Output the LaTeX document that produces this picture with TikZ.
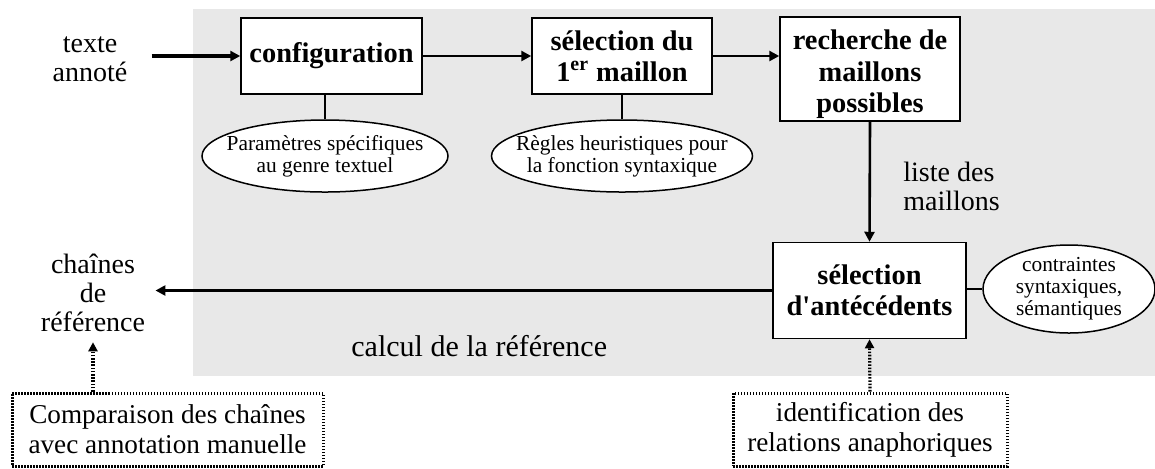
\documentclass[tikz,border=0pt]{standalone}
\usepackage{fontspec}
\setmainfont{Liberation Serif}[Ligatures=TeXOff]
\usetikzlibrary{arrows.meta,shapes.geometric}
\definecolor{bggray}{HTML}{E8E8E8}
\tikzset{
  procbox/.style={draw=black, line width=0.75pt, fill=white, align=center, inner sep=0pt,
    font=\fontsize{14.2}{15.5}\selectfont\bfseries},
  annot/.style={ellipse, draw=black, line width=0.75pt, fill=white, inner sep=0pt},
  annottext/.style={align=center, inner sep=0pt, font=\fontsize{10.7}{11}\selectfont},
  lbl/.style={align=center, inner sep=0pt, font=\fontsize{14}{14.5}\selectfont},
  dotbox/.style={draw=black, line width=1.5pt, dash pattern=on 0.75pt off 0.75pt, align=center,
    inner sep=0pt, font=\fontsize{13.6}{15}\selectfont},
  arr/.style={line width=1.3pt, -{Triangle[length=5pt,width=5pt]}},
  thickarr/.style={line width=2pt, -{Triangle[length=5pt,width=5pt]}},
  dotarr/.style={line width=1.6pt, dash pattern=on 0.8pt off 0.8pt, -{Triangle[length=4.5pt,width=4.5pt]}},
  stem/.style={line width=0.75pt}
}
\begin{document}
\begin{tikzpicture}[x=0.5pt,y=-0.5pt]
\useasboundingbox (0,0) rectangle (1155,468);
\fill[bggray] (193,9) rectangle (1155,376);

% process boxes
\node[procbox, minimum width=90.5pt, minimum height=38pt] (b1) at (331.5,56) {configuration};
\node[procbox, minimum width=90pt, minimum height=38pt] (b2) at (622,56) {sélection du\\1\textsuperscript{er} maillon};
\node[procbox, minimum width=90pt, minimum height=52pt] (b3) at (870,69) {\rule{0pt}{15pt}recherche de\\[0.5pt]maillons\\possibles};
\node[procbox, minimum width=96.5pt, minimum height=48pt] (b4) at (869.5,290.5) {sélection\\d'antécédents};

% ellipses
\node[annot, minimum width=123pt, minimum height=36pt] (e1) at (325,156) {};
\node[annottext] (e1t) at (e1.center) {Paramètres spécifiques\\au genre textuel};
\node[annot, minimum width=130.5pt, minimum height=36pt] (e2) at (622,156) {};
\node[annottext] (e2t) at (e2.center) {Règles heuristiques pour\\la fonction syntaxique};
\node[annot, minimum width=86pt, minimum height=44pt] (e3) at (1069,289) {};
\node[annottext] (e3t) at (e3.center) {contraintes\\syntaxiques,\\sémantiques};

% labels
\node[lbl, inner xsep=12pt] (ta) at (90,59) {texte\\annoté};
\node[lbl, inner xsep=5pt, inner ysep=5pt] (ch) at (93,293) {chaînes\\de\\référence};
\node[lbl, anchor=west, align=left] (lm) at (903,186) {liste des\\maillons};
\node[anchor=base west, inner sep=0pt, font=\fontsize{15}{16}\selectfont] (cal) at (351,356) {calcul de la référence};

% dotted boxes
\node[dotbox, minimum width=155.5pt, minimum height=36.5pt] (cmp) at (167.5,429.5) {Comparaison des chaînes\\avec annotation manuelle};
\node[dotbox, minimum width=137pt, minimum height=36.5pt] (idf) at (870,429.5) {identification des\\relations anaphoriques};

% connectors
\draw[thickarr] (ta.east |- b1.west) -- (b1.west);
\draw[arr] (b1.east) -- (b2.west);
\draw[arr] (b2.east) -- (b2.east -| b3.west);
\draw[arr] (b3.south) -- (b4.north);
\draw[arr] (b4.west) -- (b4.west -| ch.east);
\draw[stem] (e1.north) -- (e1.north |- b1.south);
\draw[stem] (e2.north) -- (b2.south);
\draw[stem] (b4.east |- e3.west) -- (e3.west);
\draw[dotarr] (cmp.north -| ch.south) -- (ch.south);
\draw[dotarr] (idf.north) -- (b4.south);
\end{tikzpicture}
\end{document}
